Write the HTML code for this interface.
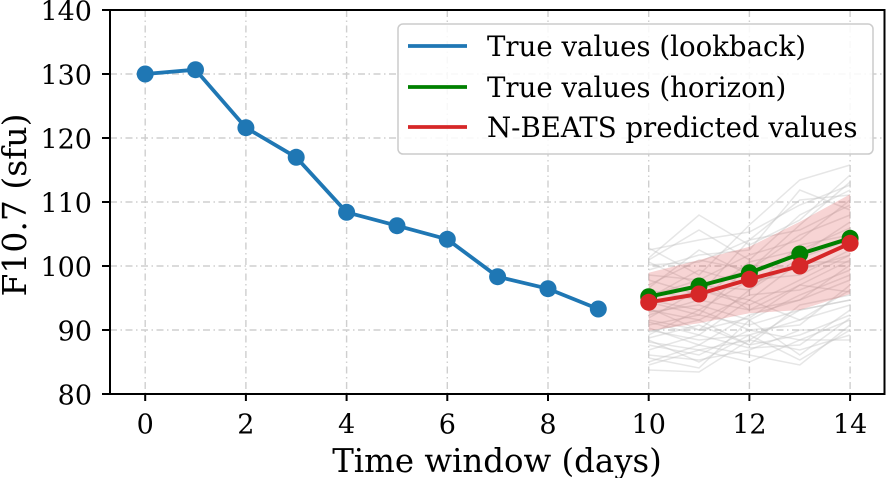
<!DOCTYPE html>
<html><head><meta charset="utf-8"><style>
html,body{margin:0;padding:0;background:#fff;}
svg{display:block;}
text{font-family:"DejaVu Serif","Liberation Serif",serif;fill:#000;}
</style></head><body>
<svg width="886" height="478" viewBox="0 0 886 478" xmlns="http://www.w3.org/2000/svg">
<rect width="886" height="478" fill="#fff"/>
<g stroke="#cfcfcf" stroke-width="1.4" stroke-dasharray="7 3.5 1.5 3.5" fill="none">
<line x1="145.2" y1="10" x2="145.2" y2="394"/>
<line x1="245.9" y1="10" x2="245.9" y2="394"/>
<line x1="346.6" y1="10" x2="346.6" y2="394"/>
<line x1="447.3" y1="10" x2="447.3" y2="394"/>
<line x1="548" y1="10" x2="548" y2="394"/>
<line x1="648.7" y1="10" x2="648.7" y2="394"/>
<line x1="749.4" y1="10" x2="749.4" y2="394"/>
<line x1="850.1" y1="10" x2="850.1" y2="394"/>
<line x1="110" y1="74" x2="885" y2="74"/>
<line x1="110" y1="138" x2="885" y2="138"/>
<line x1="110" y1="202" x2="885" y2="202"/>
<line x1="110" y1="266" x2="885" y2="266"/>
<line x1="110" y1="330" x2="885" y2="330"/>
</g>
<g stroke="#c4c4c4" stroke-opacity="0.42" stroke-width="1.5" fill="none">
<polyline points="648.7,250 699,240 749.4,232 799.8,205 850.1,185"/>
<polyline points="648.7,258 699,215 749.4,245 799.8,220 850.1,175"/>
<polyline points="648.7,265 699,262 749.4,240 799.8,200 850.1,195"/>
<polyline points="648.7,275 699,280 749.4,255 799.8,240 850.1,200"/>
<polyline points="648.7,285 699,260 749.4,270 799.8,235 850.1,215"/>
<polyline points="648.7,290 699,300 749.4,262 799.8,250 850.1,228"/>
<polyline points="648.7,295 699,285 749.4,290 799.8,258 850.1,240"/>
<polyline points="648.7,300 699,310 749.4,280 799.8,275 850.1,250"/>
<polyline points="648.7,305 699,290 749.4,300 799.8,262 850.1,262"/>
<polyline points="648.7,310 699,320 749.4,295 799.8,290 850.1,270"/>
<polyline points="648.7,315 699,300 749.4,310 799.8,300 850.1,280"/>
<polyline points="648.7,320 699,330 749.4,318 799.8,285 850.1,292"/>
<polyline points="648.7,325 699,315 749.4,325 799.8,310 850.1,300"/>
<polyline points="648.7,330 699,340 749.4,335 799.8,320 850.1,305"/>
<polyline points="648.7,338 699,325 749.4,345 799.8,335 850.1,315"/>
<polyline points="648.7,345 699,355 749.4,330 799.8,340 850.1,320"/>
<polyline points="648.7,355 699,360 749.4,350 799.8,330 850.1,330"/>
<polyline points="648.7,362 699,345 749.4,355 799.8,365 850.1,325"/>
<polyline points="648.7,370 699,372 749.4,340 799.8,350 850.1,335"/>
<polyline points="648.7,248 699,275 749.4,225 799.8,180 850.1,165"/>
<polyline points="648.7,260 699,230 749.4,260 799.8,215 850.1,190"/>
<polyline points="648.7,270 699,255 749.4,250 799.8,190 850.1,210"/>
<polyline points="648.7,280 699,295 749.4,240 799.8,230 850.1,205"/>
<polyline points="648.7,298 699,270 749.4,285 799.8,265 850.1,245"/>
<polyline points="648.7,308 699,330 749.4,290 799.8,245 850.1,235"/>
<polyline points="648.7,318 699,290 749.4,305 799.8,280 850.1,255"/>
<polyline points="648.7,328 699,345 749.4,315 799.8,300 850.1,265"/>
<polyline points="648.7,335 699,310 749.4,330 799.8,325 850.1,285"/>
<polyline points="648.7,342 699,350 749.4,340 799.8,310 850.1,300"/>
<polyline points="648.7,350 699,335 749.4,348 799.8,345 850.1,310"/>
<polyline points="648.7,358 699,368 749.4,320 799.8,355 850.1,318"/>
<polyline points="648.7,365 699,350 749.4,362 799.8,340 850.1,340"/>
<polyline points="648.7,288 699,250 749.4,275 799.8,255 850.1,222"/>
<polyline points="648.7,302 699,315 749.4,265 799.8,270 850.1,255"/>
<polyline points="648.7,312 699,305 749.4,320 799.8,295 850.1,275"/>
<polyline points="648.7,322 699,335 749.4,300 799.8,320 850.1,290"/>
<polyline points="648.7,332 699,320 749.4,345 799.8,305 850.1,295"/>
<polyline points="648.7,262 699,285 749.4,270 799.8,225 850.1,182"/>
<polyline points="648.7,340 699,362 749.4,335 799.8,360 850.1,330"/>
<polyline points="648.7,296 699,280 749.4,310 799.8,285 850.1,260"/>
</g>
<polygon points="648.7,272.7 699,260 749.4,246.7 799.8,221.7 850.1,194.3 850.1,294 799.8,310 749.4,313.3 699,323.3 648.7,330.7" fill="#d62728" fill-opacity="0.2"/>
<g fill="#1f77b4">
<polyline points="145.2,74 195.5,69.7 245.9,127.7 296.2,157.3 346.6,212.3 397,225.7 447.3,239.3 497.6,276.7 548,288.7 598.3,309" fill="none" stroke="#1f77b4" stroke-width="3.8" stroke-linejoin="round"/>
<circle cx="145.2" cy="74" r="8.5"/><circle cx="195.5" cy="69.7" r="8.5"/><circle cx="245.9" cy="127.7" r="8.5"/><circle cx="296.2" cy="157.3" r="8.5"/><circle cx="346.6" cy="212.3" r="8.5"/><circle cx="397" cy="225.7" r="8.5"/><circle cx="447.3" cy="239.3" r="8.5"/><circle cx="497.6" cy="276.7" r="8.5"/><circle cx="548" cy="288.7" r="8.5"/><circle cx="598.3" cy="309" r="8.5"/>
</g>
<g fill="#008000">
<polyline points="648.7,296.7 699,286 749.4,272.7 799.8,254 850.1,238.3" fill="none" stroke="#008000" stroke-width="4" stroke-linejoin="round"/>
<circle cx="648.7" cy="296.7" r="8.5"/><circle cx="699" cy="286" r="8.5"/><circle cx="749.4" cy="272.7" r="8.5"/><circle cx="799.8" cy="254" r="8.5"/><circle cx="850.1" cy="238.3" r="8.5"/>
</g>
<g fill="#d62728">
<polyline points="648.7,302.3 699,294 749.4,279.3 799.8,266 850.1,243.3" fill="none" stroke="#d62728" stroke-width="4" stroke-linejoin="round"/>
<circle cx="648.7" cy="302.3" r="8.5"/><circle cx="699" cy="294" r="8.5"/><circle cx="749.4" cy="279.3" r="8.5"/><circle cx="799.8" cy="266" r="8.5"/><circle cx="850.1" cy="243.3" r="8.5"/>
</g>
<rect x="110" y="10" width="774.5" height="384" fill="none" stroke="#000" stroke-width="2"/>
<g stroke="#000" stroke-width="2">
<line x1="145.2" y1="394" x2="145.2" y2="401"/><line x1="245.9" y1="394" x2="245.9" y2="401"/><line x1="346.6" y1="394" x2="346.6" y2="401"/><line x1="447.3" y1="394" x2="447.3" y2="401"/><line x1="548" y1="394" x2="548" y2="401"/><line x1="648.7" y1="394" x2="648.7" y2="401"/><line x1="749.4" y1="394" x2="749.4" y2="401"/><line x1="850.1" y1="394" x2="850.1" y2="401"/>
<line x1="102" y1="10" x2="110" y2="10"/><line x1="102" y1="74" x2="110" y2="74"/><line x1="102" y1="138" x2="110" y2="138"/><line x1="102" y1="202" x2="110" y2="202"/><line x1="102" y1="266" x2="110" y2="266"/><line x1="102" y1="330" x2="110" y2="330"/><line x1="102" y1="394" x2="110" y2="394"/>
</g>
<g font-size="27" text-anchor="end">
<text x="92" y="20.5">140</text><text x="92" y="84.5">130</text><text x="92" y="148.5">120</text><text x="92" y="212.5">110</text><text x="92" y="276.5">100</text><text x="92" y="340.5">90</text><text x="92" y="404.5">80</text>
</g>
<g font-size="27" text-anchor="middle">
<text x="145.2" y="433.5">0</text><text x="245.9" y="433.5">2</text><text x="346.6" y="433.5">4</text><text x="447.3" y="433.5">6</text><text x="548" y="433.5">8</text><text x="648.7" y="433.5">10</text><text x="749.4" y="433.5">12</text><text x="850.1" y="433.5">14</text>
</g>
<text x="497" y="472" font-size="32.4" text-anchor="middle">Time window (days)</text>
<text transform="translate(26,205) rotate(-90)" font-size="33" text-anchor="middle">F10.7 (sfu)</text>
<rect x="398" y="24" width="475" height="130" rx="5" fill="#fff" fill-opacity="0.85" stroke="#cccccc" stroke-width="1.5"/>
<line x1="408" y1="46" x2="467" y2="46" stroke="#1f77b4" stroke-width="3.8"/>
<line x1="408" y1="87" x2="467" y2="87" stroke="#008000" stroke-width="3.8"/>
<line x1="408" y1="127" x2="467" y2="127" stroke="#d62728" stroke-width="3.8"/>
<g font-size="27.6">
<text x="487" y="56">True values (lookback)</text>
<text x="487" y="97">True values (horizon)</text>
<text x="487" y="137">N-BEATS predicted values</text>
</g>
</svg>
</body></html>
